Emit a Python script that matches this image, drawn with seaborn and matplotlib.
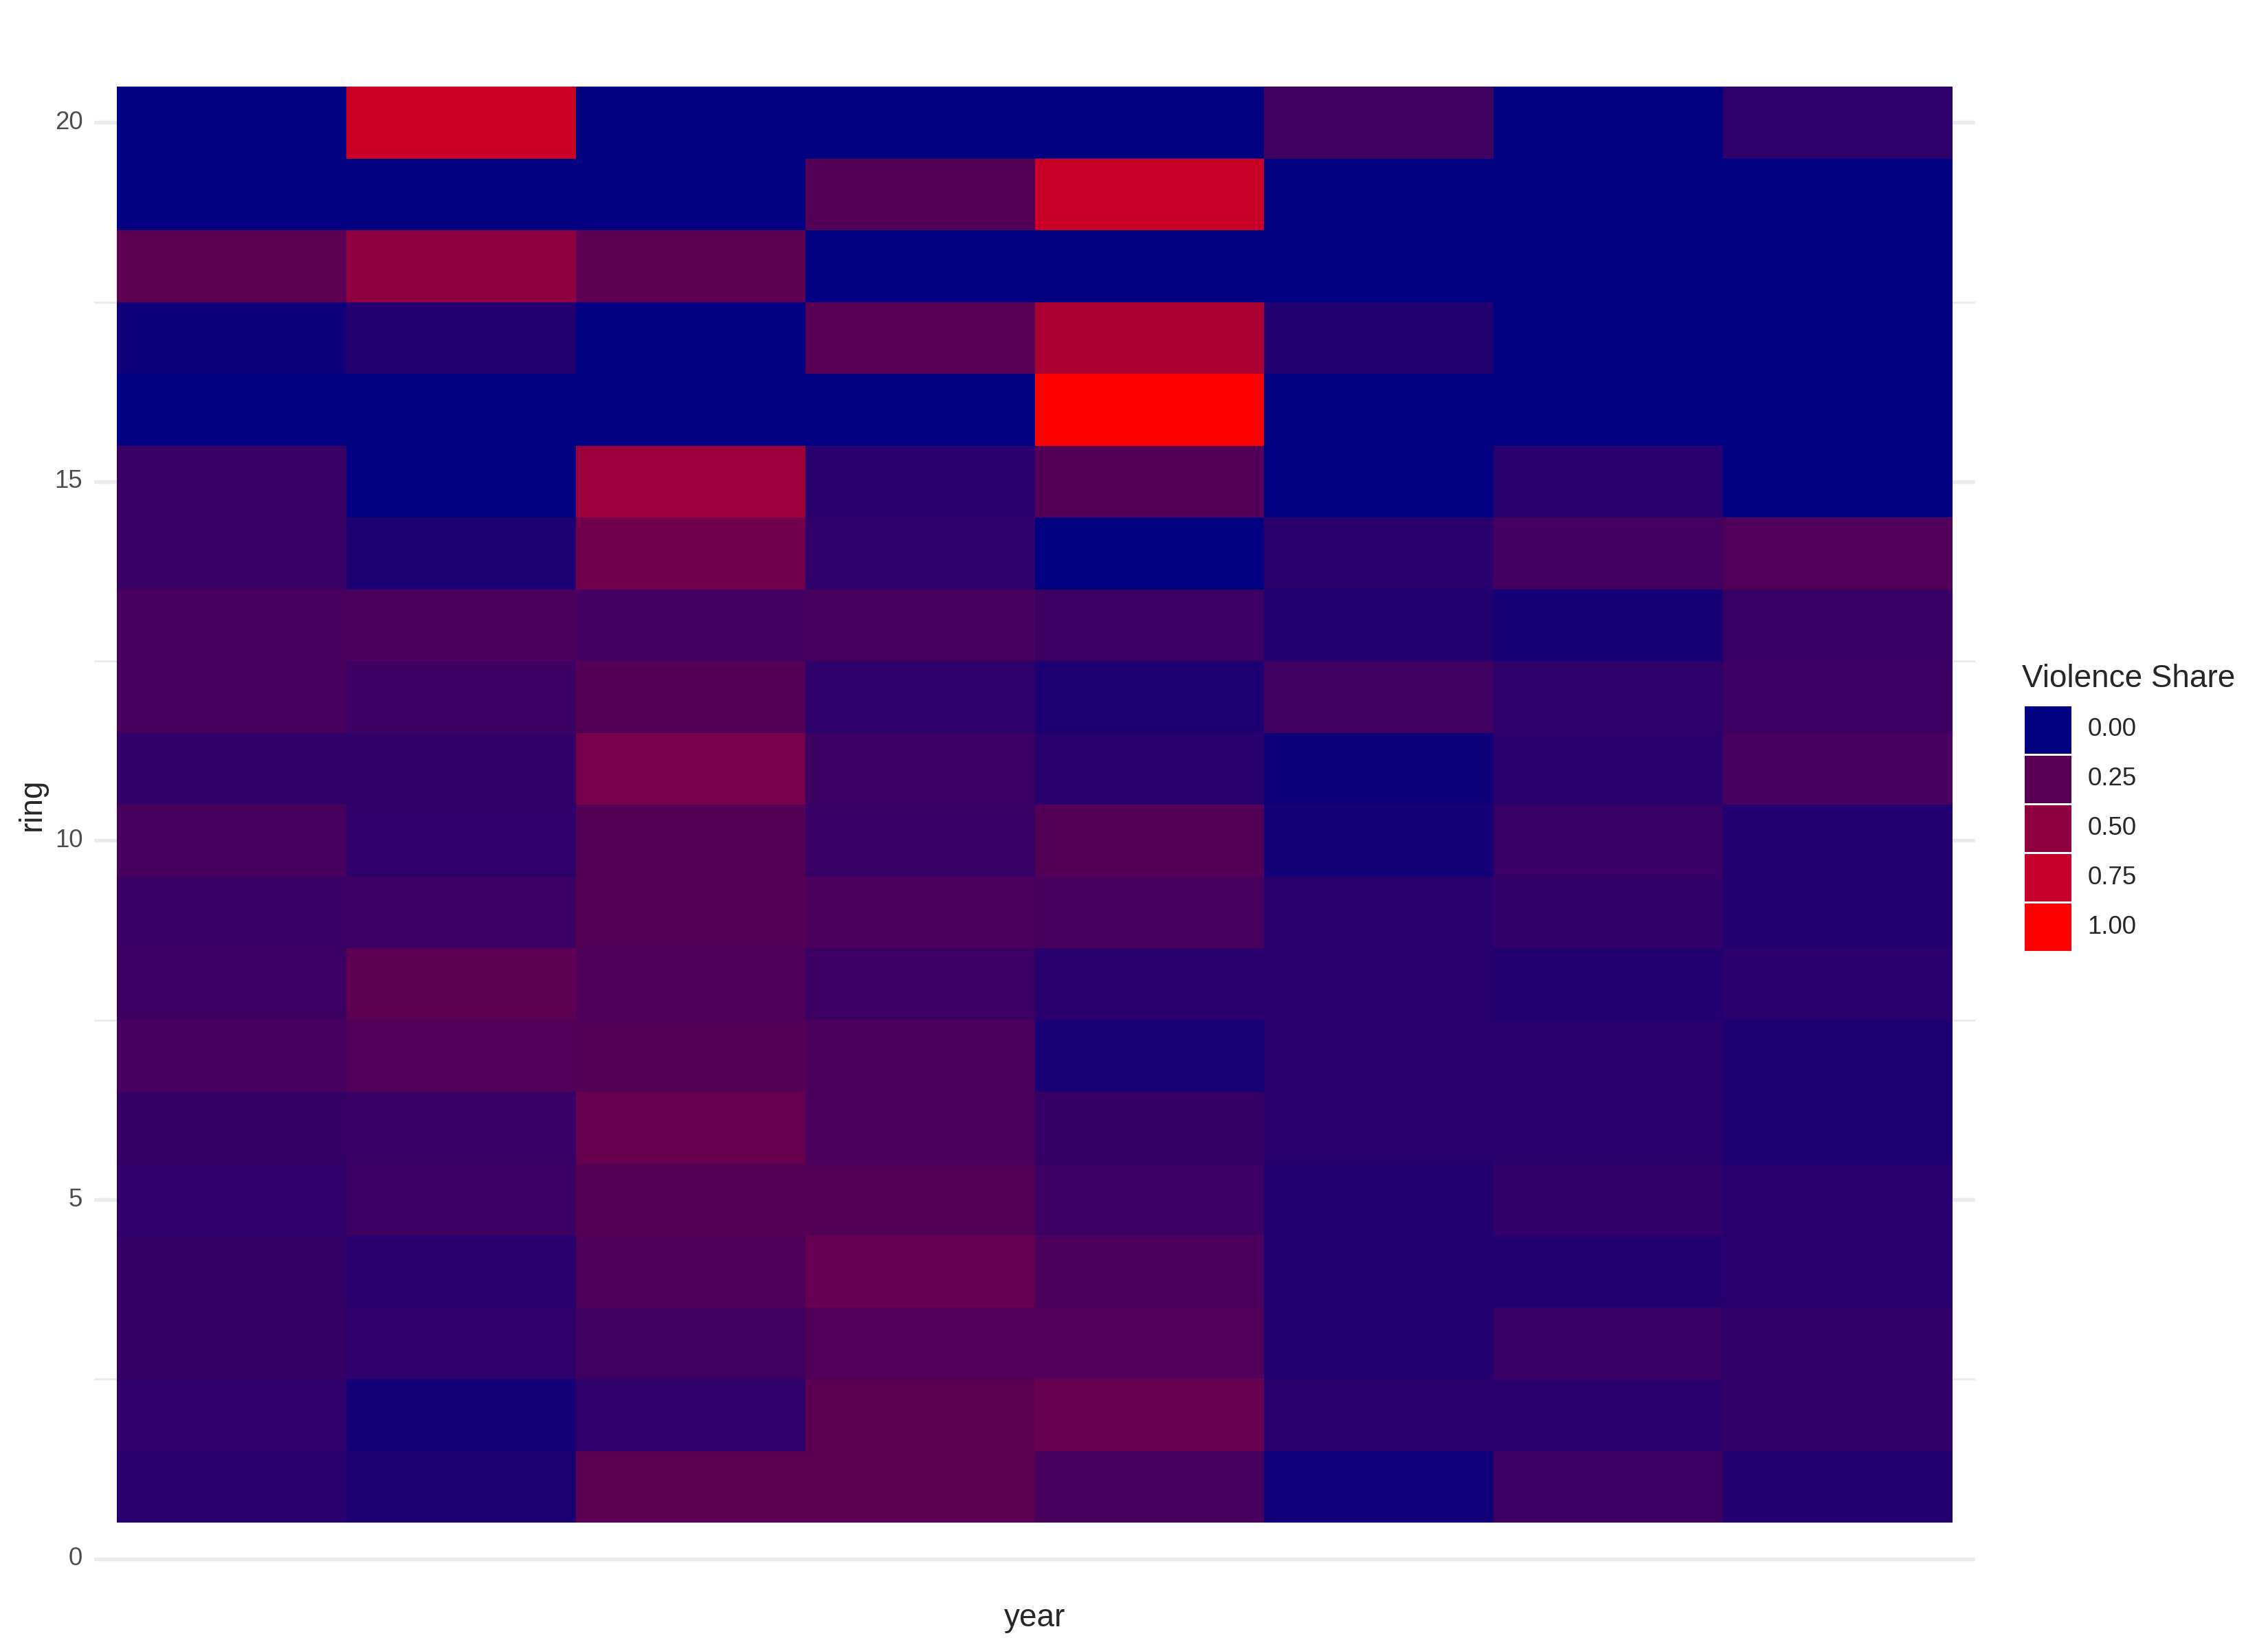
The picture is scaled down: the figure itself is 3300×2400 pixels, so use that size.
import pandas as pd
import matplotlib.pyplot as plt
import seaborn as sns
from matplotlib.colors import LinearSegmentedColormap

sns.set_style("white")
plt.rcParams['font.family'] = ['Liberation Sans', 'DejaVu Sans']

# Rings 1..20 (bottom to top), one list per year column
rings = list(range(1, 21))
years = [1, 2, 3, 4, 5, 6, 7, 8]

year_1 = [0.11, 0.135, 0.15, 0.15, 0.135, 0.15, 0.20, 0.17, 0.16, 0.20,
          0.14, 0.20, 0.20, 0.16, 0.16, 0.00, 0.045, 0.27, 0.00, 0.00]
year_2 = [0.085, 0.056, 0.135, 0.11, 0.17, 0.16, 0.23, 0.27, 0.17, 0.135,
          0.14, 0.17, 0.21, 0.085, 0.00, 0.00, 0.095, 0.50, 0.00, 0.78]
year_3 = [0.27, 0.135, 0.18, 0.22, 0.24, 0.32, 0.24, 0.22, 0.24, 0.24,
          0.39, 0.24, 0.19, 0.36, 0.56, 0.00, 0.00, 0.27, 0.00, 0.00]
year_4 = [0.27, 0.27, 0.23, 0.31, 0.24, 0.21, 0.21, 0.17, 0.21, 0.16,
          0.17, 0.13, 0.20, 0.13, 0.11, 0.00, 0.25, 0.00, 0.24, 0.00]
year_5 = [0.20, 0.32, 0.23, 0.21, 0.17, 0.15, 0.067, 0.11, 0.20, 0.24,
          0.11, 0.085, 0.17, 0.00, 0.24, 1.00, 0.63, 0.00, 0.76, 0.00]
year_6 = [0.05, 0.12, 0.10, 0.10, 0.10, 0.11, 0.11, 0.11, 0.11, 0.056,
          0.045, 0.18, 0.095, 0.12, 0.00, 0.00, 0.095, 0.00, 0.00, 0.18]
year_7 = [0.17, 0.12, 0.16, 0.095, 0.14, 0.12, 0.12, 0.095, 0.14, 0.16,
          0.12, 0.13, 0.06, 0.19, 0.11, 0.00, 0.00, 0.00, 0.00, 0.00]
year_8 = [0.095, 0.14, 0.14, 0.11, 0.11, 0.085, 0.085, 0.12, 0.10, 0.10,
          0.20, 0.17, 0.16, 0.23, 0.00, 0.00, 0.00, 0.00, 0.00, 0.13]

legend_values = [0.00, 0.25, 0.50, 0.75, 1.00]
legend_labels = ["0.00", "0.25", "0.50", "0.75", "1.00"]

# tableau long puis pivot
cols = [year_1, year_2, year_3, year_4, year_5, year_6, year_7, year_8]
rows = []
for y, vals in zip(years, cols):
    for r, v in zip(rings, vals):
        rows.append({"year": y, "ring": r, "share": v})
df = pd.DataFrame(rows)
grid = df.pivot(index="ring", columns="year", values="share").sort_index(ascending=False)

cmap = LinearSegmentedColormap.from_list(
    "navy_red",
    [(0.0, "#000080"), (0.25, "#590055"), (0.5, "#8E003F"), (0.75, "#C5002A"), (1.0, "#FF0000")])

fig = plt.figure(figsize=(11, 8), dpi=300)
ax = fig.add_axes([0.0415, 0.033, 0.8295, 0.958])

sns.heatmap(grid, ax=ax, cmap=cmap, vmin=0, vmax=1, cbar=False,
            xticklabels=False, linewidths=0)

# limites style ggplot (expansion)
n = len(rings)
ax.set_xlim(-0.1, len(years) + 0.1)
ax.set_ylim(n + 1, -1)

major = [0, 5, 10, 15, 20]
minor = [2.5, 7.5, 12.5, 17.5]
ax.set_yticks([n - m + 0.5 for m in major])
ax.set_yticklabels([str(m) for m in major], rotation=0, fontsize=8.8, color="#4D4D4D")
ax.set_yticks([n - m + 0.5 for m in minor], minor=True)
ax.tick_params(axis="y", which="both", length=0, pad=4)
ax.set_axisbelow(True)
ax.grid(True, axis="y", which="major", color="#EBEBEB", lw=1.3)
ax.grid(True, axis="y", which="minor", color="#EBEBEB", lw=0.7)
for s in ax.spines.values():
    s.set_visible(False)

ax.set_xlabel("year", fontsize=11, labelpad=3)
ax.set_ylabel("ring", fontsize=11, labelpad=2.5)

# légende en cases (comme guide_legend de ggplot)
fig.text(2942 / 3300, 1 - 1000 / 2400, "Violence Share", fontsize=11, va="baseline")
lax = fig.add_axes([2944 / 3300, 1 - 1385 / 2400, 71 / 3300, 359 / 2400])
leg_df = pd.DataFrame({"share": legend_values}, index=legend_labels)
sns.heatmap(leg_df, ax=lax, cmap=cmap, vmin=0, vmax=1, cbar=False,
            xticklabels=False, yticklabels=False, linewidths=0.6, linecolor="white")
for i, lab in enumerate(legend_labels):
    lax.text(1.32, i + 0.5, lab, fontsize=8.8, va="center", ha="left", clip_on=False)
lax.set_xlabel("")
lax.set_ylabel("")

fig.savefig("out.png", dpi=300)
